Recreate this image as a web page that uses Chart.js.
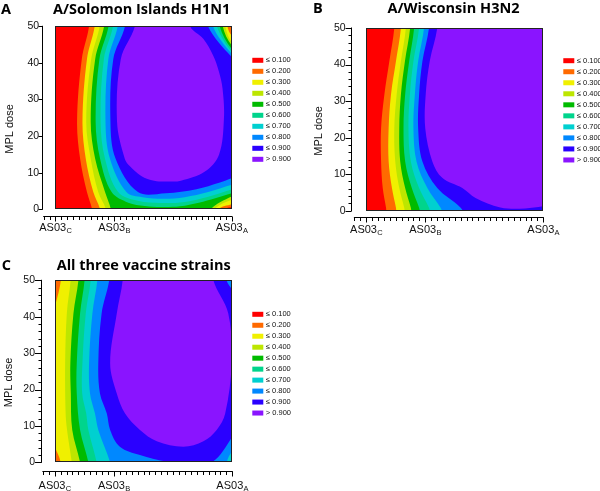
<!DOCTYPE html>
<html>
<head>
<meta charset="utf-8">
<script src="https://cdn.jsdelivr.net/npm/chart.js@4.4.1/dist/chart.umd.min.js"></script>
<style>
  body { margin: 0; background: #fff; width: 600px; height: 491px; overflow: hidden; position: relative; }
  canvas { position: absolute; left: 0; top: 0; }
</style>
</head>
<body>
<canvas id="panelA" width="600" height="491"></canvas>
<canvas id="panelB" width="600" height="491"></canvas>
<canvas id="panelC" width="600" height="491"></canvas>
<script>
// legend bands, lowest first
const bandLabels = ['≤ 0.100', '≤ 0.200', '≤ 0.300', '≤ 0.400', '≤ 0.500', '≤ 0.600', '≤ 0.700', '≤ 0.800', '≤ 0.900', '> 0.900'];
const bandColors = ['#ff0000', '#ff6a00', '#f0f000', '#bde600', '#00bb00', '#00d48c', '#00d0d0', '#0088ff', '#2a00ff', '#8a14ff'];

// x axis: AS03 level (hidden numeric position), y axis: MPL dose
const xTickValues = [25, 50, 100];
const xTickNames = ['AS03', 'AS03', 'AS03'];
const xTickSubs = ['C', 'B', 'A'];
const yTickValues = [0, 10, 20, 30, 40, 50];
const yAxisTitle = 'MPL dose';

// contour lines [AS03, MPL]; contour k encloses values above 0.1*(k+1)
const solomonContours = [
  [[39.5,56],[39.3,50],[36.2,41],[34.2,24],[35.5,13.8],[38.4,4.7],[40.6,0],[41.5,-4],[97,-4],[97.5,0],[100,0.6],[104,1],[104,56]],
  [[42,56],[41.7,50],[38.4,41],[36.5,24],[37.9,13.8],[41.1,4.7],[44,0],[45,-4],[94,-4],[94.5,0],[100,1.4],[104,2],[104,46],[100,47.5],[98.2,50],[98,56]],
  [[44,56],[43.8,50],[40.2,41],[38.1,24],[40,13.8],[43.2,4.7],[46.5,0],[47.5,-4],[92,-4],[92.8,0],[100,2.6],[104,3],[104,45],[100,45.7],[97.3,50],[97,56]],
  [[46,56],[45.7,50],[41.9,41],[40,24],[41.9,13.8],[46.1,4.7],[48.6,0],[49.5,-4],[90,-4],[91.1,0],[100,3.5],[104,4],[104,44],[100,44.8],[96.2,50],[96,56]],
  [[48,56],[47.6,50],[43.7,41],[42.1,24],[44,13.8],[48.9,4.7],[56,1.8],[63,0.9],[70,0.6],[78,0.8],[86,1.8],[93,3],[100,4.4],[104,5],[104,43],[100,43.8],[94.9,50],[94.5,56]],
  [[50,56],[49.5,50],[45.6,41],[44.2,24],[46.1,13.8],[51.7,4.7],[60,2.3],[70,1.7],[80,2],[90,3.4],[100,5.4],[104,6],[104,42],[100,43.1],[93.7,50],[93.5,56]],
  [[52,56],[51.5,50],[47.5,41],[46.3,24],[48.2,13.8],[55.2,4.7],[62,3.3],[71,2.9],[80,3.3],[90,4.7],[100,6.7],[104,7],[104,41],[100,42.5],[92,50],[91.5,56]],
  [[55,56],[54.6,50],[49.6,41],[48.4,24],[50.6,13.8],[60.1,4.7],[72,4.4],[85,5.5],[95,7.3],[100,8.5],[104,9],[104,40],[100,41.6],[89.9,50],[89.5,56]],
  [[59,56],[58.8,50],[52.8,41],[51.2,24],[54.5,13.8],[56.6,11.8],[61.5,9.1],[67,7.8],[73,7.6],[78.4,7.8],[88.6,10.3],[94.6,14.9],[96.7,24.8],[96.1,33],[94.6,37.5],[92.1,42],[87.9,46.6],[82.3,50],[82,56]]
];

const wisconsinContours = [
  [[37,56],[36.9,50],[34.8,40.9],[32.7,31.8],[31.3,22.6],[31.3,13.5],[32,6.2],[33.4,0.8],[34.5,-4],[104,-4],[104,56]],
  [[39.8,56],[39.7,50],[37.6,40.9],[35.5,31.8],[34.5,22.6],[34.5,13.5],[35.9,6.2],[37.6,0.8],[38.8,-4],[104,-4],[104,56]],
  [[41.9,56],[41.8,50],[39.7,40.9],[37.9,31.8],[36.9,22.6],[37.3,13.5],[39,6.2],[41.1,0.8],[42.5,-4],[104,-4],[104,56]],
  [[43.7,56],[43.6,50],[41.4,40.9],[39.7,31.8],[39,22.6],[39.4,13.5],[41.5,6.2],[43.9,0.8],[45.5,-4],[104,-4],[104,56]],
  [[45.4,56],[45.3,50],[43.2,40.9],[41.5,31.8],[40.8,22.6],[41.5,13.5],[44.3,6.2],[47.4,0.8],[49.5,-4],[104,-4],[104,56]],
  [[47.5,56],[47.4,50],[45,40.9],[43.5,31.8],[42.9,22.6],[43.9,13.5],[47.4,6.2],[51.6,0.8],[54,-4],[104,-4],[104,56]],
  [[49.6,56],[49.5,50],[47,40.9],[45.6,31.8],[45,22.6],[46.3,13.5],[50.9,6.2],[56.5,0.8],[60,-4],[104,-4],[104,56]],
  [[51.7,56],[51.6,50],[48.8,40.9],[47.4,31.8],[47,22.6],[48.8,13.5],[55.1,6.2],[65,0.8],[70,-4],[104,-4],[104,56]],
  [[55.2,56],[55.1,50],[51.9,40.9],[50.2,31.8],[50,22.6],[53,13.5],[57.2,9],[65.7,6.2],[71.3,3.5],[81.8,0.9],[92.3,0.6],[100,1.2],[104,1.5],[104,56]]
];

const allStrainsContours = [
  [[0,100],[0,-50],[150,-50],[150,100]],
  [[27.8,56],[27.6,50],[25,42.8],[22,38],[22,9],[25,4.3],[27.5,0],[28,-5],[104,-5],[104,56]],
  [[31.9,56],[31.7,50],[30.1,40.9],[29.4,27.2],[29.6,13.4],[30.2,8.9],[32.2,0],[33,-5],[104,-5],[104,56]],
  [[35.2,56],[35,50],[32.9,40.9],[31.6,27.2],[31.8,18.9],[32.4,8.9],[35.7,0],[36.5,-5],[104,-5],[104,56]],
  [[37.8,56],[37.6,50],[35.7,40.9],[34.3,27.2],[34.3,18.9],[35.7,8.9],[39.2,0],[40,-5],[104,-5],[104,56]],
  [[40.4,56],[40.2,50],[38.1,40.9],[36.7,27.2],[36.6,18.9],[38.3,13.4],[39.2,8.9],[42.7,0],[43.5,-5],[104,-5],[104,56]],
  [[43.2,56],[43,50],[40.9,40.9],[39.5,27.2],[39.9,18.9],[42,13.4],[43.4,8.9],[48.4,0],[50,-5],[96,-5],[97.6,0],[100,2.9],[104,3],[104,56]],
  [[48.2,56],[48,50],[44.8,40.9],[43.4,27.2],[44.1,18.9],[47,13.4],[48.4,8.9],[52.5,4.3],[61,2],[72,0.2],[81,-0.3],[91.3,0],[100,7],[104,12],[104,42],[100,47.3],[97.6,50],[97.4,56]],
  [[53.7,56],[53.7,50],[51.2,40.9],[48.4,27.2],[51.2,18.9],[54.7,13.4],[61,8.9],[68.1,5.8],[79.3,4.3],[87.8,5.8],[93.4,8.9],[97,13.4],[99.7,27.2],[98.3,40.9],[92,50],[92,56]]
];

const axisFont = '"Liberation Sans", Arial, sans-serif';
const titleFont = '"Open Sans", "Noto Sans", sans-serif';

const panels = [
  { id: 'panelA', letter: 'A', title: 'A/Solomon Islands H1N1', contours: solomonContours,
    pad: {left: 13.7, right: 368.3, top: 26.3, bottom: 275.5}, yMin: -1.7,
    yGap: 1, yTickPad: 4.6, yMajorLen: 4, yMinorLen: 0,
    letterX: 1, titleCX: 141.7, titleBase: 13.5, yTitleX: 10, yTitleCY: 129,
    legendX: 252.3, legendY: 60.3, legendStep: 11, xLabelBase: 231 },
  { id: 'panelB', letter: 'B', title: 'A/Wisconsin H3N2', contours: wisconsinContours,
    pad: {left: 324.4, right: 56.7, top: 28, bottom: 273.7}, yMin: -1.8,
    yGap: 2, yTickPad: 8.7, yMajorLen: 6, yMinorLen: 3,
    letterX: 313, titleCX: 453.5, titleBase: 12.9, yTitleX: 319, yTitleCY: 131,
    legendX: 563.3, legendY: 60.7, legendStep: 11.03, xLabelBase: 233.3 },
  { id: 'panelC', letter: 'C', title: 'All three vaccine strains', contours: allStrainsContours,
    pad: {left: 12.9, right: 367.7, top: 280.3, bottom: 20.3}, yMin: -2.3,
    yGap: 0.6, yTickPad: 7.9, yMajorLen: 6.5, yMinorLen: 3,
    letterX: 1.7, titleCX: 143.7, titleBase: 270, yTitleX: 9.2, yTitleCY: 382.5,
    legendX: 252.3, legendY: 314.3, legendStep: 10.97, xLabelBase: 489 }
];

// map rectangle, snapped to whole pixels so no edge shows through
function plotBox(chart) {
  const x = chart.scales.x, y = chart.scales.y;
  return {
    l: Math.round(x.getPixelForValue(25)), r: Math.round(x.getPixelForValue(100)),
    t: Math.round(y.getPixelForValue(50)), b: Math.round(y.getPixelForValue(0))
  };
}

function makeDecor(p) {
  return {
    id: 'decor' + p.letter,
    beforeDatasetsDraw(chart) {
      const ctx = chart.ctx, b = plotBox(chart);
      ctx.save();
      ctx.fillStyle = bandColors[0];
      ctx.fillRect(b.l, b.t, b.r - b.l, b.b - b.t);
      ctx.restore();
    },
    beforeDatasetDraw(chart, args) {
      const meta = args.meta, pts = meta.data;
      if (!pts || !pts.length) return;
      const ctx = chart.ctx, b = plotBox(chart);
      if (meta.dataset && meta.dataset.updateControlPoints) meta.dataset.updateControlPoints(chart.chartArea, 'x');
      ctx.save();
      ctx.beginPath();
      ctx.rect(b.l, b.t, b.r - b.l, b.b - b.t);
      ctx.clip();
      ctx.beginPath();
      ctx.moveTo(pts[0].x, pts[0].y);
      for (let i = 1; i < pts.length; i++) {
        const a = pts[i - 1], c = pts[i];
        if (a.cp2x !== undefined && c.cp1x !== undefined) ctx.bezierCurveTo(a.cp2x, a.cp2y, c.cp1x, c.cp1y, c.x, c.y);
        else ctx.lineTo(c.x, c.y);
      }
      ctx.closePath();
      ctx.fillStyle = chart.data.datasets[args.index].backgroundColor;
      ctx.fill();
      ctx.restore();
    },
    afterDraw(chart) {
      const ctx = chart.ctx, area = chart.chartArea;
      const xs = chart.scales.x, ys = chart.scales.y;
      const b = plotBox(chart);
      ctx.save();
      // frame round the map
      ctx.strokeStyle = '#222';
      ctx.lineWidth = 1;
      ctx.strokeRect(b.l + 0.5, b.t + 0.5, b.r - b.l - 1, b.b - b.t - 1);

      // axes, detached like the original
      ctx.strokeStyle = '#000';
      ctx.beginPath();
      const ax = Math.round(area.left - p.yGap) - 0.5;
      ctx.moveTo(ax, ys.getPixelForValue(0) + 0.5);
      ctx.lineTo(ax, ys.getPixelForValue(50) - 0.5);
      yTickValues.forEach(v => {
        const py = Math.round(ys.getPixelForValue(v)) + 0.5;
        ctx.moveTo(ax - p.yMajorLen, py); ctx.lineTo(ax, py);
      });
      if (p.yMinorLen) {
        for (let v = 0; v <= 50; v += 2) {
          if (v % 10 === 0) continue;
          const py = Math.round(ys.getPixelForValue(v)) + 0.5;
          ctx.moveTo(ax - p.yMinorLen, py); ctx.lineTo(ax, py);
        }
      }
      const ay = Math.round(area.bottom) + 0.5;
      ctx.moveTo(xs.getPixelForValue(20) - 0.5, ay);
      ctx.lineTo(xs.getPixelForValue(100) + 0.5, ay);
      for (let v = 20; v <= 100; v += 2.5) {
        const px = Math.round(xs.getPixelForValue(v)) + 0.5;
        const len = xTickValues.includes(v) ? 5 : 3.5;
        ctx.moveTo(px, ay); ctx.lineTo(px, ay + len);
      }
      ctx.stroke();

      // x tick labels with subscripts
      ctx.fillStyle = '#111';
      ctx.textBaseline = 'alphabetic';
      ctx.textAlign = 'left';
      xTickValues.forEach((v, i) => {
        ctx.font = `11px ${axisFont}`;
        const w1 = ctx.measureText(xTickNames[i]).width;
        ctx.font = `7.5px ${axisFont}`;
        const w2 = ctx.measureText(xTickSubs[i]).width;
        const x0 = xs.getPixelForValue(v) - (w1 + w2) / 2;
        ctx.font = `11px ${axisFont}`;
        ctx.fillText(xTickNames[i], x0, p.xLabelBase);
        ctx.font = `7.5px ${axisFont}`;
        ctx.fillText(xTickSubs[i], x0 + w1 + 0.3, p.xLabelBase + 2);
      });

      // y axis title
      ctx.save();
      ctx.translate(p.yTitleX, p.yTitleCY);
      ctx.rotate(-Math.PI / 2);
      ctx.font = `11px ${axisFont}`;
      ctx.textAlign = 'center';
      ctx.textBaseline = 'middle';
      ctx.fillText(yAxisTitle, 0, 0);
      ctx.restore();

      // legend
      ctx.font = `7.5px ${axisFont}`;
      ctx.textBaseline = 'middle';
      ctx.textAlign = 'left';
      bandLabels.forEach((lab, i) => {
        const cy = p.legendY + i * p.legendStep;
        ctx.fillStyle = bandColors[i];
        ctx.fillRect(p.legendX, cy - 2.5, 11, 5);
        ctx.fillStyle = '#111';
        ctx.fillText(lab, p.legendX + 13.5, cy);
      });

      // panel letter and title
      ctx.fillStyle = '#000';
      ctx.font = `bold 14.5px ${titleFont}`;
      ctx.textBaseline = 'alphabetic';
      ctx.textAlign = 'left';
      ctx.fillText(p.letter, p.letterX, p.titleBase);
      ctx.textAlign = 'center';
      ctx.fillText(p.title, p.titleCX, p.titleBase);
      ctx.restore();
    }
  };
}

function contourDatasets(contours) {
  return contours.map((pts, k) => ({
    label: bandLabels[k + 1],
    data: pts.map(([x, y]) => ({x, y})),
    backgroundColor: bandColors[k + 1],
    showLine: true,
    tension: 0.35,
    capBezierPoints: false,
    borderWidth: 0,
    pointRadius: 0,
    pointHoverRadius: 0,
    order: contours.length - k
  }));
}

panels.forEach(p => {
  new Chart(document.getElementById(p.id), {
    type: 'scatter',
    data: { datasets: contourDatasets(p.contours) },
    options: {
      responsive: false,
      animation: false,
      devicePixelRatio: 1,
      events: [],
      layout: { padding: p.pad },
      plugins: { legend: { display: false }, tooltip: { enabled: false } },
      scales: {
        x: { type: 'linear', min: 20, max: 100, display: false },
        y: {
          type: 'linear', min: p.yMin, max: 50,
          afterBuildTicks: s => { s.ticks = yTickValues.map(v => ({value: v})); },
          afterFit: s => { s.width = 30; },
          grid: { display: false, drawTicks: false },
          border: { display: false },
          ticks: { padding: p.yTickPad, color: '#111', font: { family: axisFont, size: 10.5 } }
        }
      }
    },
    plugins: [makeDecor(p)]
  });
});
</script>
</body>
</html>
